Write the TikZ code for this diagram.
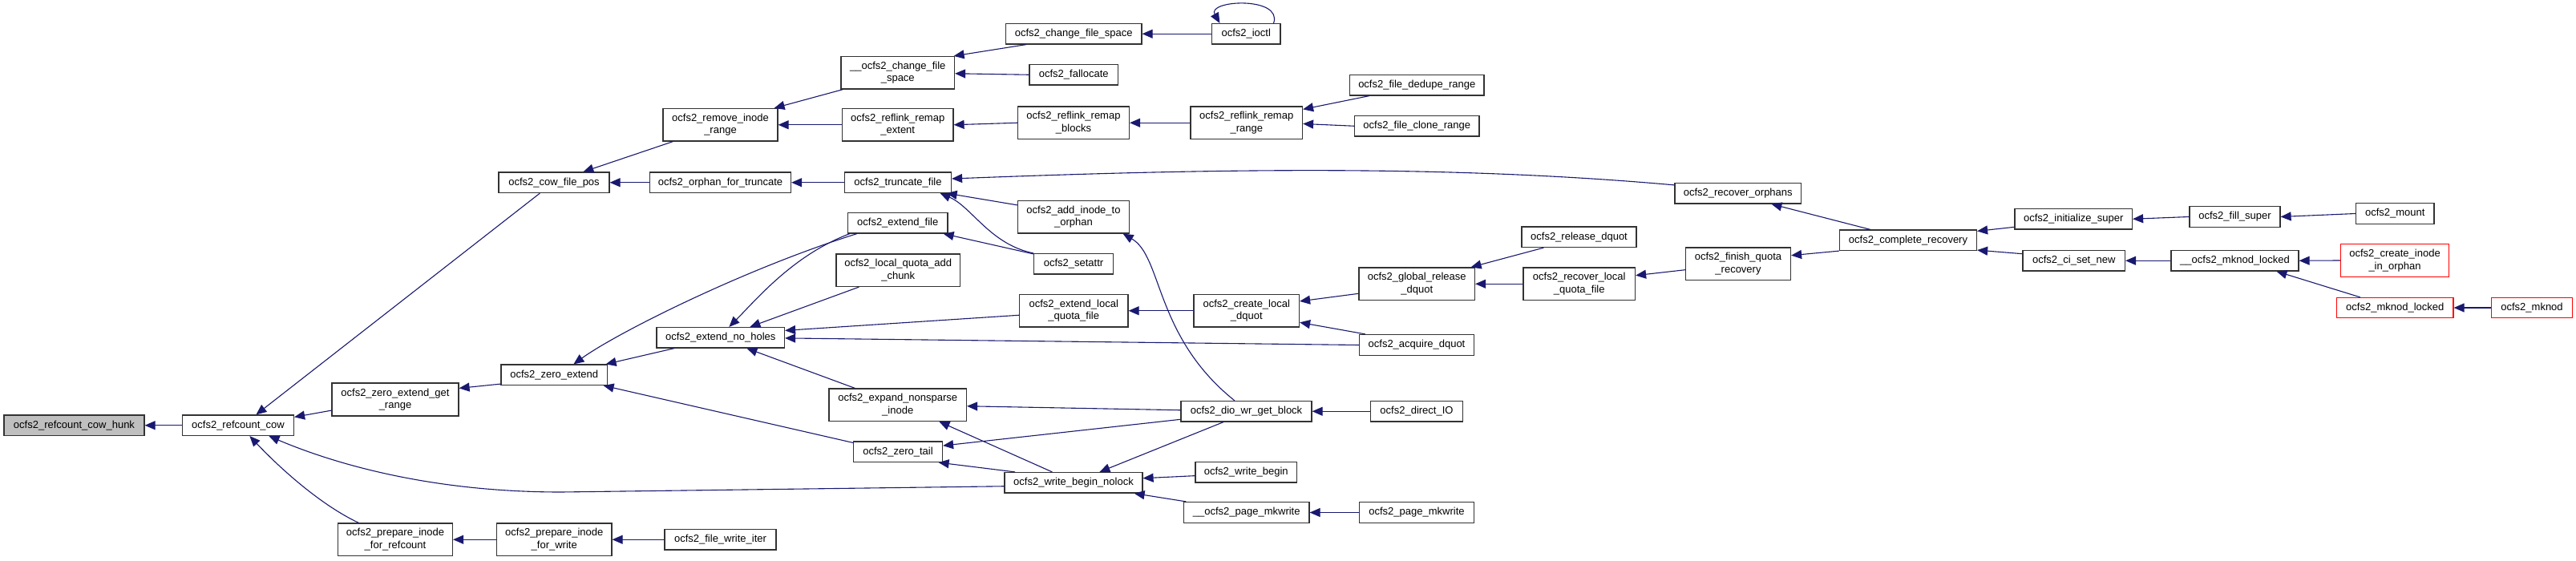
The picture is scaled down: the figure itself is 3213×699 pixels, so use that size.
\documentclass[tikz,border=0pt]{standalone}
\usepackage{fontspec}
\setmainfont{Liberation Sans}
\usetikzlibrary{arrows.meta,calc}
\definecolor{edgeblue}{HTML}{191970}
\definecolor{boxgray}{HTML}{BFBFBF}
\definecolor{nodered}{HTML}{FF0000}
\tikzset{
  fnbox/.style={draw=black!80, line width=1.2pt, fill=white, inner sep=0pt, align=center,
    font=\fontsize{13}{15.5}\selectfont, text=black},
  rednode/.style={draw=nodered},
  focus/.style={fill=boxgray},
  edge/.style={draw=edgeblue, line width=1.1pt, {Triangle[length=13pt,width=11pt]}-},
}
\newcommand\fnode[7][]{\node[fnbox,#1,minimum width={#5-#3},minimum height={#6-#4}] (#2) at ({(#3+#5)/2},{(#4+#6)/2}) {#7};}
\begin{document}
\begin{tikzpicture}[x=1pt,y=-1pt]
\useasboundingbox (0,0) rectangle (3213,699);
\fnode[focus]{hunk}{5}{518}{180}{543.5}{ocfs2\_refcount\_cow\_hunk}
\fnode{rcow}{227.5}{518}{366.5}{543.5}{ocfs2\_refcount\_cow}
\fnode{zegr}{414}{478}{572}{519}{ocfs2\_zero\_extend\_get\\\_range}
\fnode{pirc}{421.5}{653}{564.5}{693.5}{ocfs2\_prepare\_inode\\\_for\_refcount}
\fnode{cfp}{622}{215}{760}{240.5}{ocfs2\_cow\_file\_pos}
\fnode{rir}{827}{135.5}{970}{176}{ocfs2\_remove\_inode\\\_range}
\fnode{oft}{810.5}{215}{986.5}{240.5}{ocfs2\_orphan\_for\_truncate}
\fnode{ze}{625}{455}{757.5}{480.5}{ocfs2\_zero\_extend}
\fnode{enh}{819}{408.5}{978.5}{434}{ocfs2\_extend\_no\_holes}
\fnode{piw}{619.5}{653}{763}{693.5}{ocfs2\_prepare\_inode\\\_for\_write}
\fnode{fwi}{829}{660.5}{968}{686}{ocfs2\_file\_write\_iter}
\fnode{ucfs}{1049}{70.5}{1190.5}{111}{\_\_ocfs2\_change\_file\\\_space}
\fnode{rre}{1050.5}{135.5}{1189}{176}{ocfs2\_reflink\_remap\\\_extent}
\fnode{tf}{1053.5}{215}{1186.5}{240.5}{ocfs2\_truncate\_file}
\fnode{ef}{1057.5}{265.5}{1182}{291}{ocfs2\_extend\_file}
\fnode{lqac}{1043}{317}{1197.5}{357.5}{ocfs2\_local\_quota\_add\\\_chunk}
\fnode{ens}{1034}{485}{1205.5}{525.5}{ocfs2\_expand\_nonsparse\\\_inode}
\fnode{zt}{1064.5}{551}{1175.5}{576.5}{ocfs2\_zero\_tail}
\fnode{cfs}{1254.5}{29.5}{1424}{55}{ocfs2\_change\_file\_space}
\fnode{fall}{1284}{80.5}{1394.5}{106}{ocfs2\_fallocate}
\fnode{rrb}{1269.5}{133}{1408.5}{173.5}{ocfs2\_reflink\_remap\\\_blocks}
\fnode{aio}{1269.5}{250.5}{1408.5}{291}{ocfs2\_add\_inode\_to\\\_orphan}
\fnode{sa}{1289.5}{316.5}{1388.5}{342}{ocfs2\_setattr}
\fnode{elqf}{1271.5}{367.5}{1407}{408}{ocfs2\_extend\_local\\\_quota\_file}
\fnode{wbn}{1253}{589.5}{1425}{615}{ocfs2\_write\_begin\_nolock}
\fnode{ioctl}{1511.5}{29.5}{1597}{55}{ocfs2\_ioctl}
\fnode{rrr}{1485}{133}{1624.5}{173.5}{ocfs2\_reflink\_remap\\\_range}
\fnode{cld}{1489}{367.5}{1620.5}{408}{ocfs2\_create\_local\\\_dquot}
\fnode{dio}{1473}{500.5}{1636}{526}{ocfs2\_dio\_wr\_get\_block}
\fnode{wb}{1491}{576.5}{1617.5}{602}{ocfs2\_write\_begin}
\fnode{upm}{1476.5}{626.5}{1633}{652.5}{\_\_ocfs2\_page\_mkwrite}
\fnode{fdr}{1683.5}{93.5}{1851}{119}{ocfs2\_file\_dedupe\_range}
\fnode{fcr}{1689.5}{144.5}{1845}{170}{ocfs2\_file\_clone\_range}
\fnode{grd}{1695}{334}{1839.5}{374.5}{ocfs2\_global\_release\\\_dquot}
\fnode{acq}{1695.5}{417.5}{1838.5}{443.5}{ocfs2\_acquire\_dquot}
\fnode{dirio}{1709.5}{500.5}{1824.5}{526}{ocfs2\_direct\_IO}
\fnode{pm}{1695.5}{626.5}{1838.5}{652.5}{ocfs2\_page\_mkwrite}
\fnode{rd}{1898}{283}{2041}{308.5}{ocfs2\_release\_dquot}
\fnode{rlqf}{1900}{334}{2039.5}{374.5}{ocfs2\_recover\_local\\\_quota\_file}
\fnode{ro}{2089}{228.5}{2246.5}{254}{ocfs2\_recover\_orphans}
\fnode{fqr}{2102.5}{309}{2233.5}{349.5}{ocfs2\_finish\_quota\\\_recovery}
\fnode{cr}{2294.5}{287}{2465.5}{312.5}{ocfs2\_complete\_recovery}
\fnode{is}{2513}{260.5}{2659.5}{286}{ocfs2\_initialize\_super}
\fnode{csn}{2523}{312.5}{2650.5}{338}{ocfs2\_ci\_set\_new}
\fnode{fs}{2731}{257.5}{2844}{283.5}{ocfs2\_fill\_super}
\fnode{uml}{2708}{312.5}{2867}{338}{\_\_ocfs2\_mknod\_locked}
\fnode{mount}{2938.5}{253.5}{3036}{279.5}{ocfs2\_mount}
\fnode[rednode]{ciio}{2919.5}{304.5}{3054.5}{345.5}{ocfs2\_create\_inode\\\_in\_orphan}
\fnode[rednode]{ml}{2914.5}{371.5}{3060}{396.5}{ocfs2\_mknod\_locked}
\fnode[rednode]{mknod}{3107.5}{371.5}{3208.5}{396.5}{ocfs2\_mknod}
% edges
\draw[edge] (hunk.east) -- (rcow.west);
\draw[edge] ([shift={(92.5,0)}]rcow.north west) -- ([shift={(52,0)}]cfp.south west);
\draw[edge] ([shift={(0,3)}]rcow.north east) -- ([shift={(0,-7.5)}]zegr.south west);
\draw[edge] ([shift={(108.5,0)}]rcow.south west) .. controls (420,580) and (540,614) .. (700,614) -- ([shift={(0,4.5)}]wbn.west);
\draw[edge] ([shift={(84.5,0)}]rcow.south west) .. controls (350,585) and (400,630) .. ([shift={(26.5,0)}]pirc.north west);
\draw[edge] ([shift={(106,0)}]cfp.north west) -- ([shift={(13,0)}]rir.south west);
\draw[edge] (cfp.east) -- (oft.west);
\draw[edge] ([shift={(0,7)}]zegr.north east) -- ([shift={(0,-2)}]ze.south west);
\draw[edge] ([shift={(91,0)}]ze.north west) .. controls (770,415) and (930,335) .. ([shift={(12,0)}]ef.south west);
\draw[edge] ([shift={(91,0)}]enh.north west) .. controls (945,372) and (990,318) .. ([shift={(3,0)}]ef.south west);
\draw[edge] ([shift={(-2.5,0)}]ze.north east) -- ([shift={(22.7,0)}]enh.south west);
\draw[edge] ([shift={(-5.5,0)}]ze.south east) -- ([shift={(0,2)}]zt.north west);
\draw[edge] ([shift={(117,0)}]enh.north west) -- ([shift={(29,0)}]lqac.south west);
\draw[edge] ([shift={(0,4.5)}]enh.north east) -- ([shift={(0,5.5)}]elqf.west);
\draw[edge] ([shift={(0,14)}]enh.north east) -- (acq.west);
\draw[edge] ([shift={(113,0)}]enh.south west) -- ([shift={(33,0)}]ens.north west);
\draw[edge] (oft.east) -- (tf.west);
\draw[edge] ([shift={(-5,0)}]rir.north east) -- ([shift={(3,0)}]ucfs.south west);
\draw[edge] (rir.east) -- (rre.west);
\draw[edge] ([shift={(-1.5,0)}]ucfs.north east) -- ([shift={(26,0)}]cfs.south west);
\draw[edge] ([shift={(0,1)}]ucfs.east) -- (fall.west);
\draw[edge] (cfs.east) -- (ioctl.west);
\draw[edge] ([shift={(10.5,0)}]ioctl.north west) .. controls (1505,0) and (1600,-5) .. ([shift={(-9,0)}]ioctl.north east);
\draw[edge] (rre.east) -- (rrb.west);
\draw[edge] (rrb.east) -- (rrr.west);
\draw[edge] ([shift={(0,4)}]rrr.north east) -- ([shift={(25,0)}]fdr.south west);
\draw[edge] ([shift={(0,1.2)}]rrr.east) -- (fcr.west);
\draw[edge] ([shift={(0,-4.75)}]tf.east) .. controls (1500,211) and (1800,205) .. ([shift={(0,3)}]ro.north west);
\draw[edge] ([shift={(-6.5,0)}]tf.south east) -- ([shift={(0,6)}]aio.north west);
\draw[edge] ([shift={(-14.5,0)}]tf.south east) .. controls (1212,258) and (1235,305) .. (sa.north west);
\draw[edge] ([shift={(-6,0)}]ef.south east) -- ([shift={(0,1)}]sa.north west);
\draw[edge] ([shift={(-8.5,0)}]aio.south east) .. controls (1450,320) and (1440,420) .. ([shift={(67.5,0)}]dio.north west);
\draw[edge] (elqf.east) -- (cld.west);
\draw[edge] ([shift={(0,9)}]cld.north east) -- ([shift={(0,-8.8)}]grd.south west);
\draw[edge] ([shift={(0,-6.3)}]cld.south east) -- ([shift={(8,0)}]acq.north west);
\draw[edge] ([shift={(-5.5,0)}]grd.north east) -- ([shift={(28,0)}]rd.south west);
\draw[edge] (grd.east) -- (rlqf.west);
\draw[edge] ([shift={(0,10.3)}]rlqf.north east) -- ([shift={(0,28.3)}]fqr.north west);
\draw[edge] ([shift={(121,0)}]ro.south west) -- ([shift={(39,0)}]cr.north west);
\draw[edge] ([shift={(0,10.3)}]fqr.north east) -- (cr.south west);
\draw[edge] ([shift={(0,2)}]cr.north east) -- ([shift={(0,-3.3)}]is.south west);
\draw[edge] ([shift={(0,-1)}]cr.south east) -- ([shift={(0,4.8)}]csn.north west);
\draw[edge] (is.east) -- (fs.west);
\draw[edge] (fs.east) -- (mount.west);
\draw[edge] (csn.east) -- (uml.west);
\draw[edge] (uml.east) -- (ciio.west);
\draw[edge] ([shift={(132,0)}]uml.south west) -- ([shift={(30,0)}]ml.north west);
\draw[edge] (ml.east) -- (mknod.west);
\draw[edge] ([shift={(0,1.5)}]ens.east) -- ([shift={(0,-1.5)}]dio.west);
\draw[edge] ([shift={(0,5.7)}]zt.north east) -- ([shift={(0,-3.3)}]dio.south west);
\draw[edge] ([shift={(119,0)}]wbn.north west) -- ([shift={(53.6,0)}]dio.south west);
\draw[edge] ([shift={(-5.5,0)}]zt.south east) -- ([shift={(13.6,0)}]wbn.north west);
\draw[edge] ([shift={(138,0)}]ens.south west) -- ([shift={(60,0)}]wbn.north west);
\draw[edge] ([shift={(0,-5.5)}]wbn.east) -- ([shift={(0,4.4)}]wb.west);
\draw[edge] ([shift={(-11,0)}]wbn.south east) -- ([shift={(3.5,0)}]upm.north west);
\draw[edge] (dio.east) -- (dirio.west);
\draw[edge] (upm.east) -- (pm.west);
\draw[edge] (piw.east) -- (fwi.west);
\draw[edge] (pirc.east) -- (piw.west);
\end{tikzpicture}
\end{document}
